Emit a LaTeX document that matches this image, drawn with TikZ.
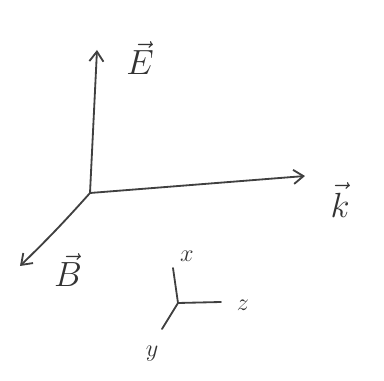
\documentclass[tikz,border=0pt]{standalone}
\usepackage{amsmath,amssymb}
\usepackage{tikz}
\usetikzlibrary{arrows.meta,positioning,calc}

\begin{document}
\begin{tikzpicture}[
    x=0.025cm, y=-0.025cm,
    axis/.style={-{Straight Barb[length=7pt,width=10pt]}, line width=1.3pt, black!75, line cap=round},
    leg/.style={line width=1.3pt, black!75, line cap=round},
    big/.style={font=\fontsize{24}{28}\selectfont, text=black!80, inner sep=0pt},
    small/.style={font=\fontsize{18}{22}\selectfont, text=black!80, inner sep=0pt}
]
\useasboundingbox (0,0) rectangle (384,381);
% field vectors
\coordinate (orig) at (90,193);
\coordinate (etip) at (97,50);
\coordinate (ktip) at (305,176);
\coordinate (btip) at (20,266);
\draw[axis] (orig) -- (etip);
\draw[axis] (orig) -- (ktip);
\draw[axis] (orig) to[bend left=2] (btip);
\node[big] (E) at (140,58) {$\vec{E}$};
\node[big] (k) at (340,200) {$\vec{k}$};
\node[big] (B) at (68,270) {$\vec{B}$};
% small frame
\coordinate (sorig) at (178,303);
\coordinate (xend) at (173,268);
\coordinate (zend) at (221,302);
\coordinate (yend) at (162,329);
\draw[leg] (sorig) -- (xend);
\draw[leg] (sorig) -- (zend);
\draw[leg] (sorig) -- (yend);
\node[small] (x) at (187,256) {$x$};
\node[small] (z) at (243,305) {$z$};
\node[small] (y) at (152,354) {$y$};
\end{tikzpicture}
\end{document}
